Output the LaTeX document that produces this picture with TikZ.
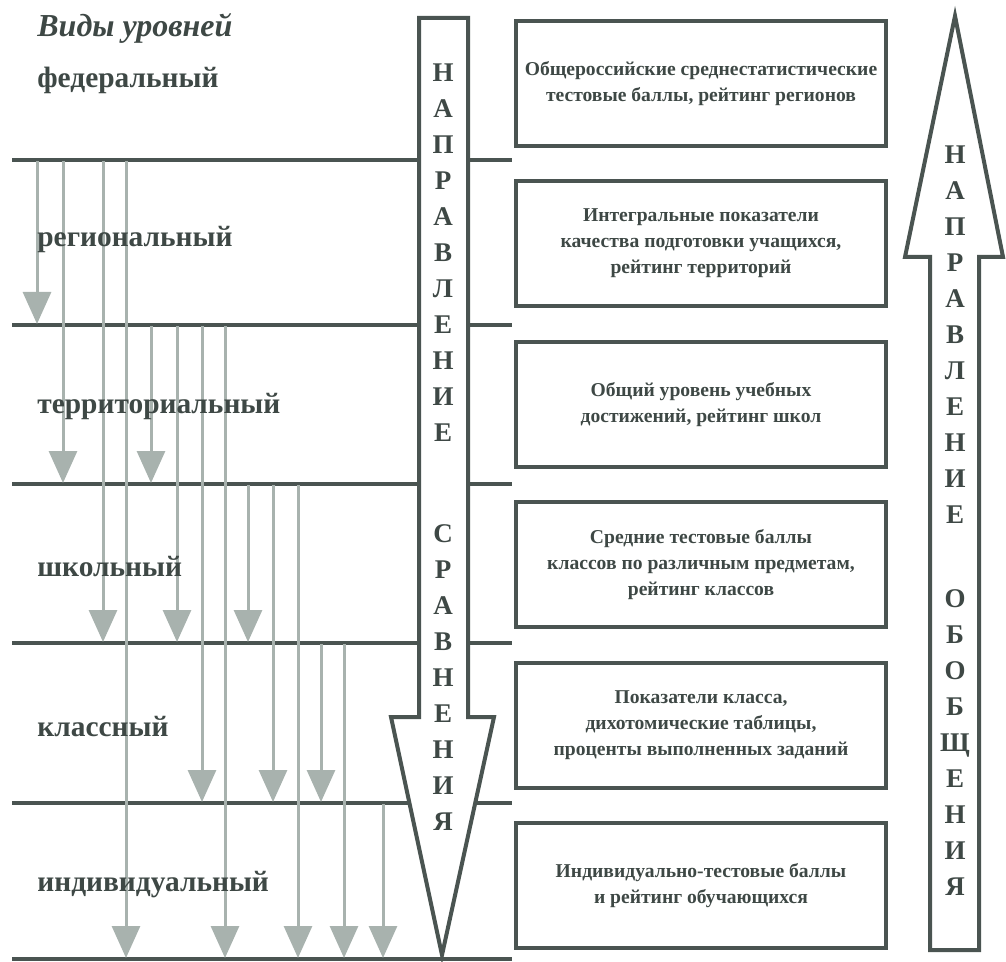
\documentclass[tikz,border=0pt]{standalone}
\usepackage{fontspec}
\setmainfont{Liberation Serif}
\usetikzlibrary{arrows.meta,positioning}
\definecolor{lineGray}{RGB}{74,84,81}
\definecolor{arrowGray}{RGB}{168,178,174}
\definecolor{textGray}{RGB}{62,72,69}

\tikzset{
  levelline/.style={draw=lineGray, line width=2pt},
  lvlarrow/.style={draw=arrowGray, line width=1.5pt, -{Triangle[width=14pt,length=16pt]}, arrowGray},
  bigarrow/.style={draw=lineGray, line width=2pt, fill=white, line join=miter},
  levellabel/.style={anchor=west, inner sep=0pt, text=textGray, font=\fontsize{14.7}{18}\selectfont\bfseries},
  resultbox/.style={draw=lineGray, line width=2pt, minimum width=185pt, minimum height=62.5pt,
    inner sep=2pt, align=center, text=textGray, font=\fontsize{9.8}{13}\selectfont\bfseries},
  letters/.style={align=center, inner sep=0pt, text=textGray, font=\fontsize{13.5}{18}\selectfont\bfseries}
}

\begin{document}
\begin{tikzpicture}[x=0.5pt, y=-0.5pt]
    \useasboundingbox (0,0) rectangle (1006,962);

    % Level lines
    \foreach \y in {160,325,484,643,803,959}
        \draw[levelline] (12,\y) -- (512,\y);

    % Comparison arrows between levels
    \foreach \x/\ya/\yb in {37/160/325, 63/160/484, 103/160/643, 126/160/959,
                            151/325/484, 177/325/643, 202/325/803, 225/325/959,
                            248/484/643, 273/484/803, 298/484/959,
                            321/643/803, 344/643/959,
                            383/803/959}
        \draw[lvlarrow] (\x,\ya+1) -- (\x,\yb-1);

    % Level names
    \node[levellabel, font=\fontsize{16}{19}\selectfont\bfseries\itshape] (lbltitle) at (37,28) {Виды уровней};
    \node[levellabel] (lblfed) at (37,80) {федеральный};
    \node[levellabel] (lblreg) at (37,240) {региональный};
    \node[levellabel] (lblter) at (37,407) {территориальный};
    \node[levellabel] (lblsch) at (37,567) {школьный};
    \node[levellabel] (lblcls) at (37,727) {классный};
    \node[levellabel] (lblind) at (37,885) {индивидуальный};

    % Direction of comparison
    \draw[bigarrow] (419,18) -- (468,18) -- (468,717) -- (494,717) -- (442,955)
        -- (391,717) -- (419,717) -- cycle;
    \node[letters] (cmpa) at (443,253) {Н\\А\\П\\Р\\А\\В\\Л\\Е\\Н\\И\\Е};
    \node[letters] (cmpb) at (443,678) {С\\Р\\А\\В\\Н\\Е\\Н\\И\\Я};

    % Results of each level
    \node[resultbox] (boxfed) at (701,83.5) {Общероссийские среднестатистические\\тестовые баллы, рейтинг регионов};
    \node[resultbox] (boxreg) at (701,243.5) {Интегральные показатели\\качества подготовки учащихся,\\рейтинг территорий};
    \node[resultbox] (boxter) at (701,404.5) {Общий уровень учебных\\достижений, рейтинг школ};
    \node[resultbox] (boxsch) at (701,564.5) {Средние тестовые баллы\\классов по различным предметам,\\рейтинг классов};
    \node[resultbox] (boxcls) at (701,725) {Показатели класса,\\дихотомические таблицы,\\проценты выполненных заданий};
    \node[resultbox] (boxind) at (701,885.5) {Индивидуально-тестовые баллы\\и рейтинг обучающихся};

    % Direction of generalisation
    \draw[bigarrow] (930,950) -- (979,950) -- (979,257) -- (1003,257) -- (955,16)
        -- (905,257) -- (930,257) -- cycle;
    \node[letters] (gena) at (955,335) {Н\\А\\П\\Р\\А\\В\\Л\\Е\\Н\\И\\Е};
    \node[letters] (genb) at (955,743) {О\\Б\\О\\Б\\Щ\\Е\\Н\\И\\Я};
\end{tikzpicture}
\end{document}
